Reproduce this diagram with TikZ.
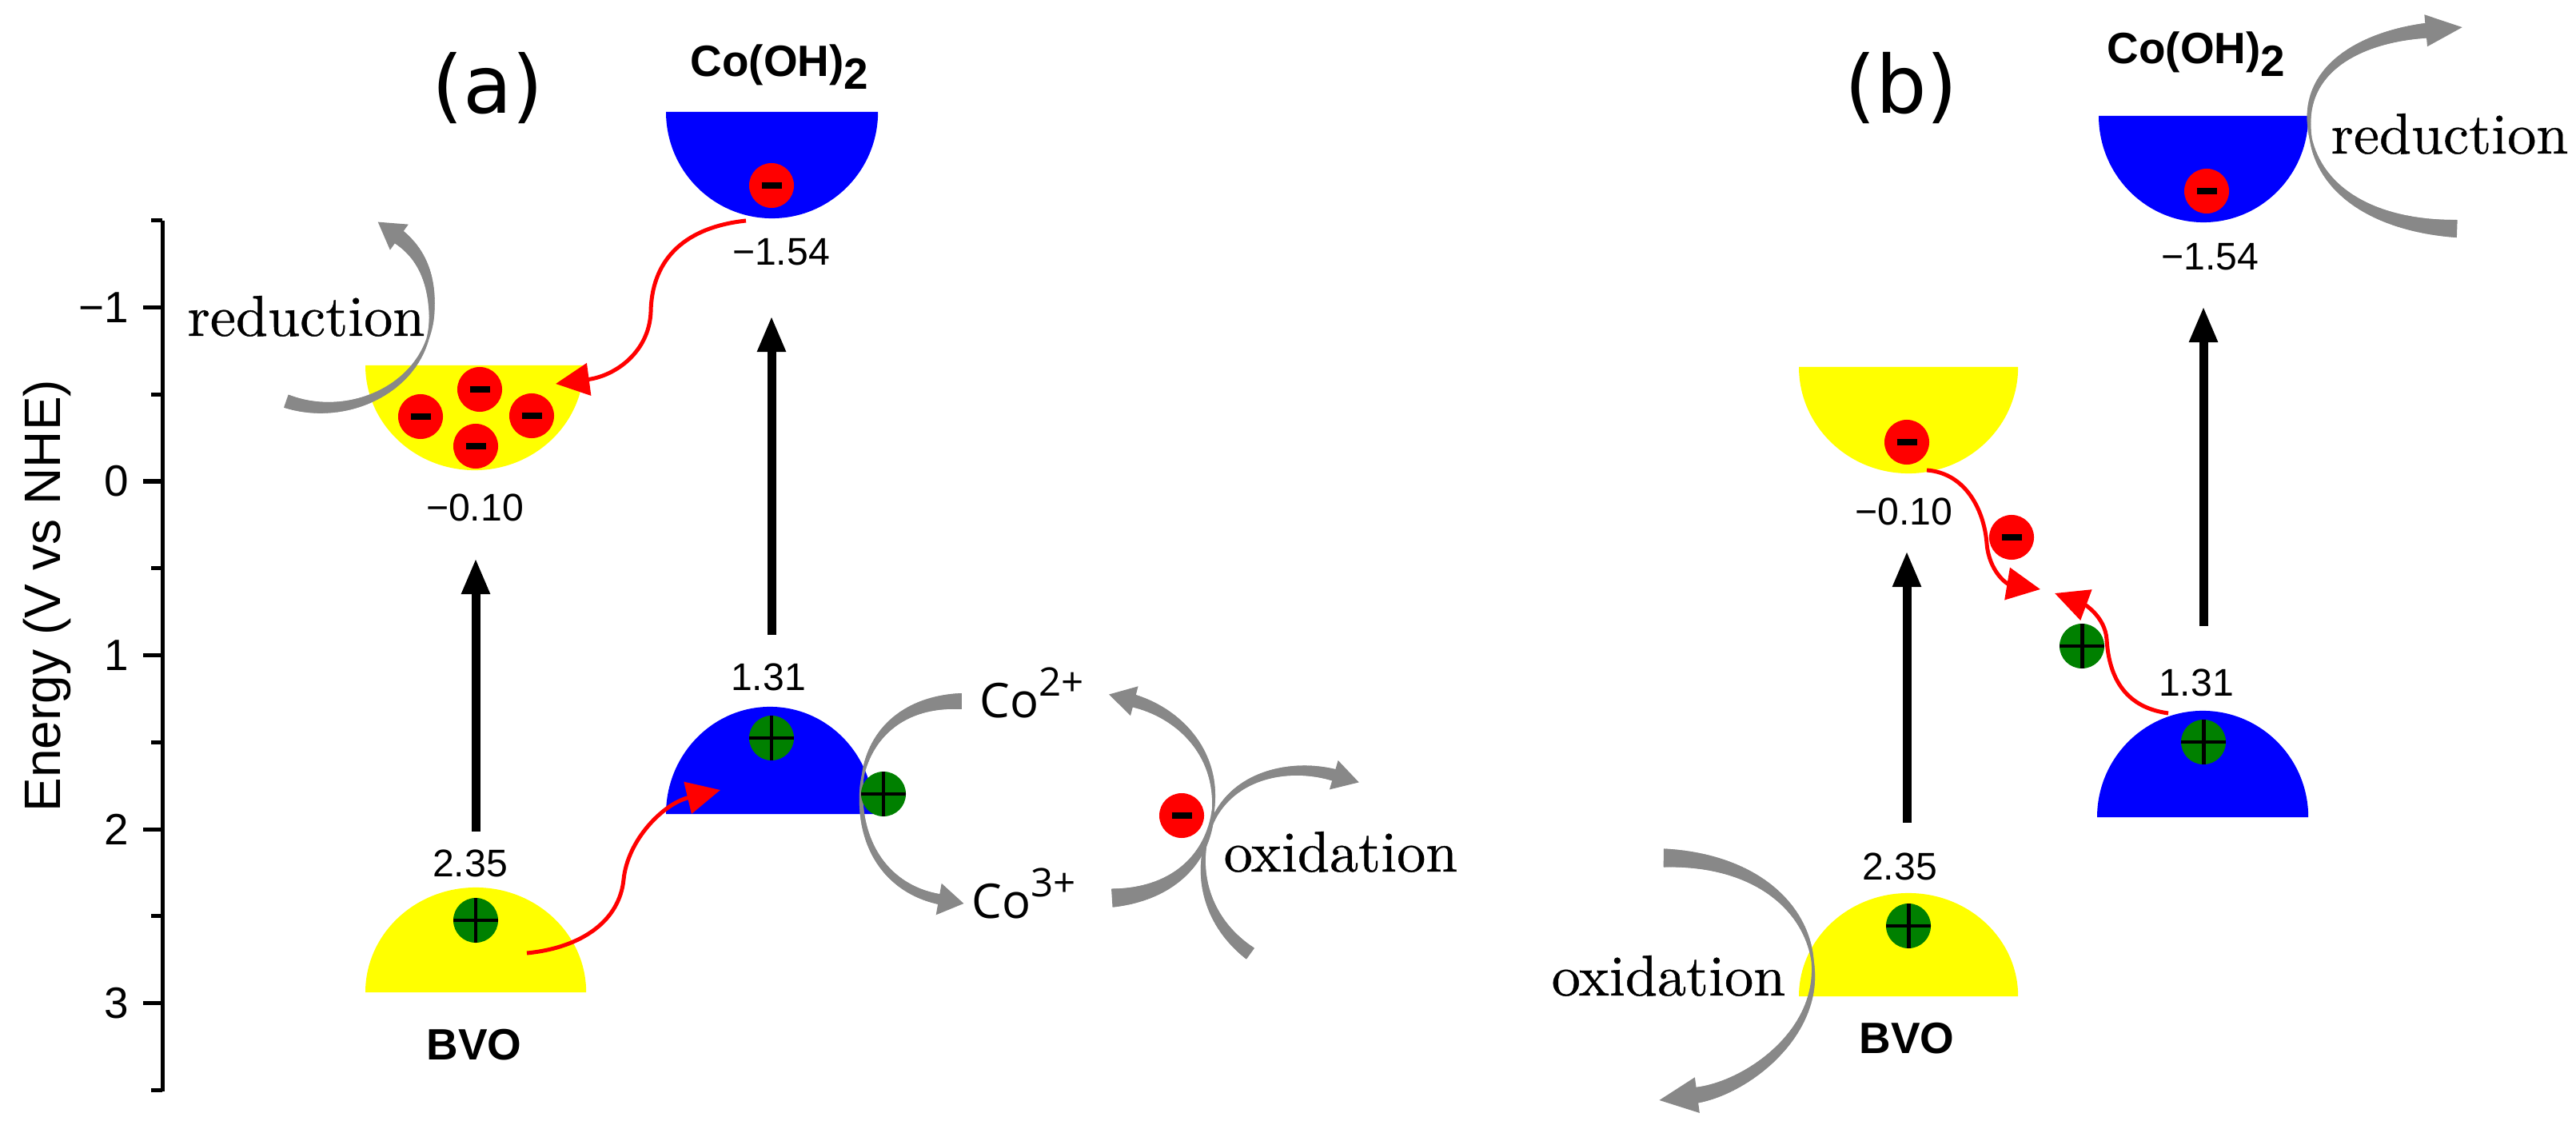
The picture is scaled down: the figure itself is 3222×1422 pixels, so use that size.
\documentclass[tikz,border=0pt]{standalone}
\usepackage{fontspec}
\newfontfamily\arialf{Liberation Sans}
\newfontfamily\dejavuf{DejaVu Sans}
\newfontfamily\opensansf{Open Sans}
\newfontfamily\redoxf{lmroman10-regular.otf}[FakeBold=0.6]
\usetikzlibrary{arrows.meta,decorations.markings}
\definecolor{bandblue}{RGB}{0,0,255}
\definecolor{bandyellow}{RGB}{255,255,0}
\definecolor{hgreen}{RGB}{0,128,0}
\definecolor{ered}{RGB}{255,0,0}
\definecolor{arrgray}{RGB}{136,136,136}
% #1 path (ends at head base), #2 tail width px, #3 min width px, #4 fraction of min,
% #5 width at head px, #6 head length pt, #7 head half width pt
\newcommand{\taperarrow}[7]{%
  \path[decorate, decoration={markings,
    mark=between positions 0 and 1 step 0.4pt with {%
      \pgfmathsetmacro\tfr{\pgfkeysvalueof{/pgf/decoration/mark info/distance from start}/\pgfdecoratedpathlength}%
      \pgfmathsetmacro\thw{0.14226*((\tfr<#4) ? (#2+(#3-#2)*\tfr/#4) : (#3+(#5-#3)*(\tfr-#4)/(1-#4)))}%
      \fill[arrgray] (-0.35pt,-\thw pt) rectangle (0.35pt,\thw pt);}}] #1;%
  \path[decorate, decoration={markings,
    mark=at position 0.9999 with {\fill[arrgray] (-0.8pt,#7pt) -- (#6pt,0pt) -- (-0.8pt,-#7pt) -- cycle;}}] #1;%
}
\begin{document}
\begin{tikzpicture}[x=0.01cm, y=-0.01cm,
  num/.style={font=\arialf\fontsize{13.7}{15}\selectfont, inner sep=0pt},
  ticklab/.style={font=\arialf\fontsize{15.6}{17}\selectfont, inner sep=0pt, anchor=east},
  matlab/.style={font=\arialf\bfseries\fontsize{15.6}{17}\selectfont, inner sep=0pt},
  panellab/.style={font=\dejavuf\fontsize{28.5}{32}\selectfont, inner sep=0pt},
  redox/.style={font=\redoxf\fontsize{20.5}{24}\selectfont, inner sep=0pt, anchor=base},
  ionlab/.style={font=\opensansf\fontsize{17}{20}\selectfont, inner sep=0pt, anchor=base west},
  excite/.style={line width=0.11cm, -{Triangle[length=0.45cm, width=0.33cm]}},
  transfer/.style={draw=ered, line width=0.05cm, -{Triangle[length=0.42cm, width=0.4cm]}, ered},
  electron/.style={circle, fill=ered, minimum size=0.56cm, inner sep=0pt,
    path picture={\draw[line width=2pt, shorten <=0.155cm, shorten >=0.155cm]
      (path picture bounding box.west) -- (path picture bounding box.east);}},
  hole/.style={circle, fill=hgreen, minimum size=0.56cm, inner sep=0pt,
    path picture={\draw[line width=1.4pt]
      (path picture bounding box.west) -- (path picture bounding box.east)
      (path picture bounding box.north) -- (path picture bounding box.south);}}
]
\useasboundingbox (0,0) rectangle (3222,1422);
\fill[white] (0,0) rectangle (3222,1422);

% ---------------- axis ----------------
\draw[line width=0.05cm] (203,276) -- (203,1365);
\foreach \v in {-1,0,1,2,3} \draw[line width=0.05cm] (179,{602+217.5*\v}) -- (203,{602+217.5*\v});
\foreach \v in {-1.5,-0.5,0.5,1.5,2.5,3.5} \draw[line width=0.05cm] (189,{602+217.5*\v}) -- (203,{602+217.5*\v});
\node[ticklab] (tm1) at (162,384.5) {−1};
\node[ticklab] (t0) at (162,602) {0};
\node[ticklab] (t1) at (162,819.5) {1};
\node[ticklab] (t2) at (162,1037) {2};
\node[ticklab] (t3) at (162,1254.5) {3};
\node[rotate=90, font=\arialf\fontsize{18.2}{20}\selectfont, inner sep=0pt] (ytitle) at (59,745) {Energy (V vs NHE)};

% ---------------- panel (a) bands ----------------
\fill[bandblue] (833,140) arc[start angle=180, end angle=360, x radius=1.325cm, y radius=1.33cm] -- cycle;
\fill[bandyellow] (457,457) arc[start angle=180, end angle=360, x radius=1.365cm, y radius=1.31cm] -- cycle;
\fill[bandblue] (833,1018) arc[start angle=180, end angle=0, x radius=1.30cm, y radius=1.34cm] -- cycle;
\fill[bandyellow] (457,1241) arc[start angle=180, end angle=0, x radius=1.38cm, y radius=1.31cm] -- cycle;

% ---------------- panel (b) bands ----------------
\fill[bandblue] (2625,145) arc[start angle=180, end angle=360, x radius=1.31cm, y radius=1.33cm] -- cycle;
\fill[bandyellow] (2250,459) arc[start angle=180, end angle=360, x radius=1.37cm, y radius=1.33cm] -- cycle;
\fill[bandblue] (2623,1022) arc[start angle=180, end angle=0, x radius=1.32cm, y radius=1.33cm] -- cycle;
\fill[bandyellow] (2250,1246) arc[start angle=180, end angle=0, x radius=1.37cm, y radius=1.29cm] -- cycle;

% ---------------- excitation arrows ----------------
\coordinate (aCBco) at (965,395);   \coordinate (aVBco) at (965,794);
\coordinate (aCBbvo) at (595,698);  \coordinate (aVBbvo) at (595,1040);
\coordinate (bCBco) at (2756,383);  \coordinate (bVBco) at (2756,783);
\coordinate (bCBbvo) at (2385,689); \coordinate (bVBbvo) at (2385,1029);
\draw[excite] (aVBco) -- (aCBco);
\draw[excite] (aVBbvo) -- (aCBbvo);
\draw[excite] (bVBco) -- (bCBco);
\draw[excite] (bVBbvo) -- (bCBbvo);

% ---------------- gray process arrows ----------------
% (a) reduction
\taperarrow{(359,502) .. controls (440,530) and (540,480) .. (540,390) .. controls (540,345) and (525,315) .. (497,295)}{17}{3}{0.6}{19}{8.5}{5.6}
% (a) Co2+ -> Co3+
\taperarrow{(1202,877) .. controls (1120,877) and (1077,930) .. (1077,995) .. controls (1077,1070) and (1120,1115) .. (1177,1125)}{20}{3}{0.45}{13}{8.2}{5.7}
% (a) Co3+ -> Co2+
\taperarrow{(1392,1123) .. controls (1470,1118) and (1518,1070) .. (1518,1000) .. controls (1518,935) and (1470,890) .. (1416,876)}{23}{3}{0.5}{16}{8.5}{5.4}
% (a) oxidation
\taperarrow{(1563,1192) .. controls (1505,1150) and (1490,1080) .. (1520,1020) .. controls (1550,965) and (1620,955) .. (1671,970)}{17}{3}{0.45}{15}{8.5}{5.4}
% (b) reduction
\taperarrow{(3072,286) .. controls (2960,282) and (2888,230) .. (2888,150) .. controls (2888,80) and (2960,45) .. (3037,38)}{22}{3}{0.5}{19}{12.2}{5.7}
% (b) oxidation
\taperarrow{(2082,1073) .. controls (2200,1075) and (2268,1140) .. (2268,1217) .. controls (2268,1300) and (2180,1362) .. (2120,1370)}{23}{3}{0.5}{20}{12.8}{6.4}

% ---------------- red transfer arrows ----------------
\coordinate (ra1s) at (933,276);  \coordinate (ra1e) at (695,480);
\coordinate (ra2s) at (659,1192); \coordinate (ra2e) at (901,988);
\coordinate (rb1s) at (2410,588); \coordinate (rb1e) at (2552,737);
\coordinate (rb2s) at (2712,892); \coordinate (rb2e) at (2570,742);
\draw[transfer] (ra1s) .. controls (850,285) and (815,330) .. (814,390) .. controls (812,440) and (770,470) .. (ra1e);
\draw[transfer] (ra2s) .. controls (730,1185) and (775,1150) .. (780,1100) .. controls (785,1050) and (830,1005) .. (ra2e);
\draw[transfer] (rb1s) .. controls (2460,592) and (2482,640) .. (2485,680) .. controls (2488,715) and (2510,730) .. (rb1e);
\draw[transfer] (rb2s) .. controls (2660,885) and (2638,850) .. (2635,800) .. controls (2633,770) and (2605,755) .. (rb2e);

% ---------------- charges (a) ----------------
\node[electron] (ea1) at (965,232) {};
\node[electron] (ea2) at (600,487) {};
\node[electron] (ea3) at (526,521) {};
\node[electron] (ea4) at (665,520) {};
\node[electron] (ea5) at (595,558) {};
\node[electron] (ea6) at (1478,1020) {};
\node[hole] (ha1) at (965,923) {};
\node[hole] (ha2) at (1105,993) {};
\node[hole] (ha3) at (595,1151) {};

% ---------------- charges (b) ----------------
\node[electron] (eb1) at (2760,239) {};
\node[electron] (eb2) at (2385,553) {};
\node[electron] (eb3) at (2516,672) {};
\node[hole] (hb1) at (2604,808) {};
\node[hole] (hb2) at (2756,928) {};
\node[hole] (hb3) at (2387,1158) {};

% ---------------- labels (a) ----------------
\node[panellab] (pa) at (610,110) {(a)};
\node[matlab, anchor=base] (coa) at (975,96) {Co(OH)\raisebox{-0.29em}{2}};
\node[num] (na1) at (977,315) {−1.54};
\node[num] (na2) at (594,635) {−0.10};
\node[num] (na3) at (961,847) {1.31};
\node[num] (na4) at (588,1080) {2.35};
\node[matlab] (bvoa) at (593,1307) {BVO};
\node[redox] (reda) at (383,420) {reduction};
\node[redox] (oxa) at (1677,1090) {oxidation};
\node[ionlab] (co2) at (1225,897) {Co\raisebox{0.45em}{\fontsize{14}{14}\selectfont 2+}};
\node[ionlab] (co3) at (1215,1148) {Co\raisebox{0.45em}{\fontsize{14}{14}\selectfont 3+}};

% ---------------- labels (b) ----------------
\node[panellab] (pb) at (2378,110) {(b)};
\node[matlab, anchor=base] (cob) at (2747,80) {Co(OH)\raisebox{-0.29em}{2}};
\node[num] (nb1) at (2764,321) {−1.54};
\node[num] (nb2) at (2381,640) {−0.10};
\node[num] (nb3) at (2747,854) {1.31};
\node[num] (nb4) at (2376,1084) {2.35};
\node[matlab] (bvob) at (2385,1299) {BVO};
\node[redox] (redb) at (3064,192) {reduction};
\node[redox] (oxb) at (2087,1245) {oxidation};
\end{tikzpicture}
\end{document}
